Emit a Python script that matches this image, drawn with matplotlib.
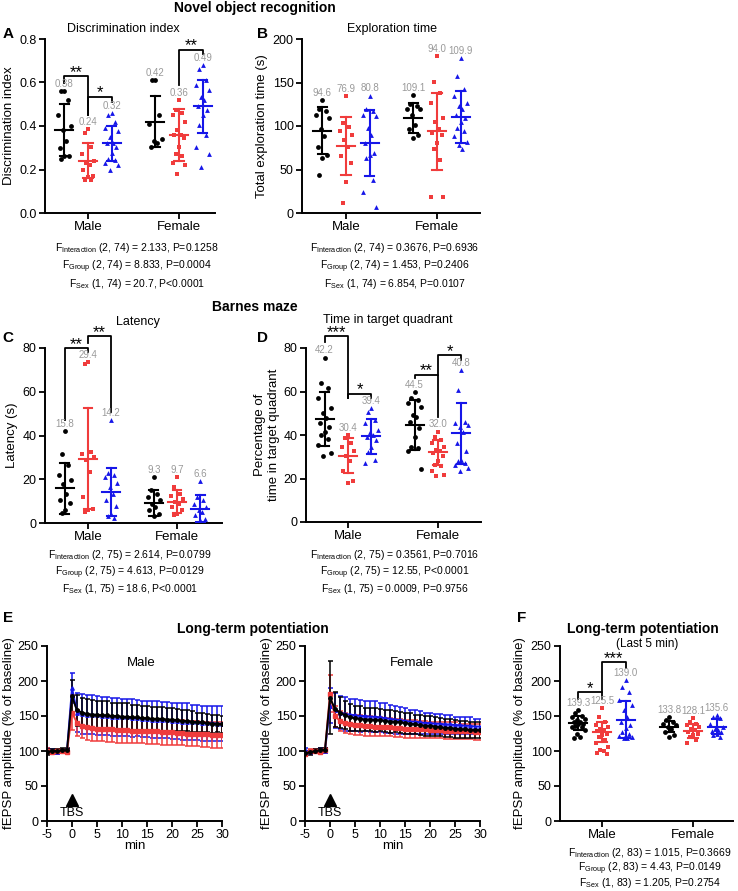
import numpy as np
import matplotlib
matplotlib.use("Agg")
import matplotlib.pyplot as plt

plt.rcParams['font.family'] = ['Liberation Sans', 'DejaVu Sans']
plt.rcParams['mathtext.fontset'] = 'custom'
plt.rcParams['mathtext.rm'] = 'Liberation Sans'
plt.rcParams['mathtext.it'] = 'Liberation Sans:italic'
plt.rcParams['mathtext.bf'] = 'Liberation Sans:bold'
plt.rcParams['axes.unicode_minus'] = False

W, H = 738, 891
BLACK, RED, BLUE = '#000000', '#f03c3c', '#1616e8'
GRAY = '#9a9a9a'
colors = [BLACK, RED, BLUE]
markers = ['o', 's', '^']
sexes = ['Male', 'Female']

# order in every group list: male ctrl, male red, male blue, female ctrl, female red, female blue
# A - discrimination index
di_pts = [[0.56, 0.56, 0.52, 0.45, 0.40, 0.38, 0.33, 0.30, 0.26, 0.26, 0.25],
          [0.385, 0.37, 0.305, 0.27, 0.24, 0.23, 0.22, 0.20, 0.17, 0.165, 0.15, 0.15],
          [0.46, 0.45, 0.42, 0.39, 0.375, 0.35, 0.32, 0.32, 0.305, 0.275, 0.25, 0.245, 0.23, 0.22, 0.20],
          [0.61, 0.61, 0.45, 0.41, 0.34, 0.33, 0.32, 0.305],
          [0.52, 0.475, 0.46, 0.45, 0.42, 0.38, 0.36, 0.36, 0.345, 0.305, 0.27, 0.26, 0.23, 0.22, 0.18],
          [0.68, 0.66, 0.61, 0.59, 0.565, 0.535, 0.52, 0.49, 0.475, 0.45, 0.405, 0.36, 0.305, 0.27, 0.21]]
di_mean = [0.38, 0.24, 0.32, 0.42, 0.36, 0.49]
di_sd = [0.12, 0.08, 0.08, 0.117, 0.12, 0.12]
di_lab = ['0.38', '0.24', '0.32', '0.42', '0.36', '0.49']

# B - exploration time
ex_pts = [[130, 120, 117, 113, 109, 96, 88, 76, 67, 63, 44],
          [134, 103, 99, 94, 90, 84, 76, 65, 57, 36, 12],
          [135, 119, 117, 113, 111, 98, 90, 80, 69, 67, 63, 38, 24, 7],
          [136, 125, 123, 120, 119, 113, 101, 97, 90, 86],
          [180, 151, 138, 127, 109, 105, 96, 92, 90, 80, 73, 61, 18, 18],
          [178, 157, 142, 134, 126, 123, 119, 113, 109, 105, 98, 94, 88, 82, 78, 73]]
ex_mean = [94.6, 76.9, 80.8, 109.1, 94.0, 109.9]
ex_sd = [27, 33, 38, 17, 44, 30]
ex_lab = ['94.6', '76.9', '80.8', '109.1', '94.0', '109.9']

# C - latency
lat_pts = [[42, 31.4, 26.4, 22, 19.5, 17.7, 13.4, 10.4, 9, 5.8, 4.7],
           [73.6, 72.5, 32.5, 31.7, 30.2, 28.6, 23.3, 11.9, 6.5, 5.8, 5],
           [47.2, 22.9, 21.8, 21, 18.3, 16.5, 13.4, 10.4, 7.6, 4.3, 3, 2.4],
           [21, 15, 13.4, 11.9, 10.4, 8.8, 7.3, 5.8, 4.3, 3],
           [21, 16.5, 13.4, 12.2, 11, 9.6, 8.8, 7.3, 5.8, 4.3, 3.5],
           [19, 11.9, 10.4, 8.8, 7.3, 6.1, 5, 3.5, 2, 1.2]]
lat_mean = [15.8, 29.4, 14.2, 9.3, 9.7, 6.6]
lat_sd = [11.6, 23.2, 11.1, 5.9, 5.3, 6.0]
lat_lab = ['15.8', '29.4', '14.2', '9.3', '9.7', '6.6']

# D - time in target quadrant
tq_pts = [[75.6, 63.7, 61.4, 56.8, 52.3, 50, 47.7, 45.4, 43.9, 41.6, 40, 38.1, 35.5, 31.7, 30.2],
          [40, 38.6, 36.3, 34.7, 32.5, 30.2, 27.9, 23.3, 18.7, 18],
          [52.3, 50.7, 47, 45.4, 42.4, 41.6, 40, 39.3, 37.8, 34.7, 32, 28.6, 27.1],
          [59.9, 56.8, 56, 54.5, 53, 49.2, 48.2, 46.2, 43.1, 39.3, 34.7, 34, 32.5, 24.4],
          [41.6, 39.3, 37.8, 36.3, 34.7, 33.2, 32.5, 31.7, 30.2, 27.9, 26.4, 25.6, 23.3, 21.8, 21],
          [69.8, 60.6, 46.2, 45.4, 44.6, 43.9, 41.6, 36.3, 32.5, 28.6, 27.9, 27.1, 26.4, 24.8, 23.6]]
tq_mean = [47.4, 30.4, 39.4, 44.5, 32.0, 40.8]
tq_sd = [12.5, 8.1, 8.0, 11.5, 5.8, 14.0]
tq_lab = ['42.2', '30.4', '39.4', '44.5', '32.0', '40.8']

# E - LTP time course
t_min = list(range(-5, 31))
ltp_m_black = [99, 100, 100, 101, 101, 178,
               158, 155, 153, 152, 152, 151, 151, 150, 150, 149, 149, 148, 148, 147, 147,
               146, 146, 146, 145, 145, 144, 143, 143, 142, 141, 141, 140, 139, 139, 138]
ltp_m_black_sd = [4, 3, 3, 3, 3, 24,
                  22, 21, 21, 21, 20, 20, 20, 19, 19, 19, 19, 18, 18, 18, 18,
                  17, 17, 17, 16, 16, 16, 15, 15, 15, 14, 14, 13, 13, 12, 12]
ltp_m_blue = [101, 100, 99, 100, 100, 190,
              155, 153, 152, 152, 151, 150, 150, 149, 149, 148, 148, 147, 147, 146, 146,
              145, 145, 144, 144, 143, 143, 142, 142, 141, 141, 140, 140, 140, 139, 139]
ltp_m_blue_sd = [4, 3, 3, 3, 3, 22,
                 28, 28, 28, 28, 28, 27, 27, 27, 27, 27, 27, 27, 26, 26, 26,
                 26, 26, 26, 26, 26, 26, 26, 26, 25, 25, 25, 25, 25, 25, 25]
ltp_m_red = [100, 99, 100, 100, 99, 155,
             140, 136, 134, 133, 132, 132, 131, 131, 130, 130, 130, 129, 129, 129, 128,
             128, 128, 127, 127, 127, 126, 126, 125, 125, 125, 124, 124, 123, 123, 123]
ltp_m_red_sd = [4, 3, 3, 3, 3, 25,
                18, 18, 18, 18, 18, 18, 18, 18, 18, 18, 18, 18, 18, 18, 18,
                18, 18, 18, 18, 18, 18, 18, 18, 18, 18, 18, 18, 18, 18, 18]
ltp_f_black = [97, 98, 100, 101, 102, 176,
               160, 155, 151, 148, 147, 146, 145, 145, 144, 144, 143, 142, 142, 141, 140,
               139, 138, 137, 136, 136, 135, 134, 133, 133, 132, 131, 131, 130, 130, 130]
ltp_f_black_sd = [3, 3, 3, 3, 3, 52,
                  25, 22, 20, 19, 18, 18, 17, 17, 17, 16, 16, 16, 15, 15, 15,
                  15, 14, 14, 14, 14, 13, 13, 13, 13, 13, 12, 12, 12, 12, 12]
ltp_f_blue = [101, 99, 100, 101, 100, 165,
              158, 155, 153, 152, 151, 150, 150, 149, 149, 148, 147, 146, 145, 144, 143,
              142, 142, 141, 140, 140, 139, 139, 138, 138, 137, 137, 136, 136, 135, 135]
ltp_f_blue_sd = [3, 3, 3, 3, 3, 25,
                 25, 24, 24, 23, 23, 23, 22, 22, 22, 21, 21, 20, 20, 19, 18,
                 17, 17, 16, 15, 15, 14, 14, 13, 13, 12, 12, 12, 12, 11, 11]
ltp_f_red = [96, 100, 100, 99, 101, 182,
             150, 143, 140, 138, 137, 137, 136, 136, 135, 135, 134, 134, 133, 133, 132,
             132, 131, 131, 131, 130, 130, 130, 129, 129, 129, 128, 128, 128, 127, 127]
ltp_f_red_sd = [3, 3, 3, 3, 3, 26,
                15, 14, 14, 14, 14, 14, 14, 14, 14, 13, 13, 13, 13, 13, 13,
                13, 13, 12, 12, 12, 12, 12, 12, 12, 12, 11, 11, 11, 11, 11]

# F - last 5 min
l5_pts = [[158, 153.6, 150, 148.8, 146, 144, 141.7, 141, 139, 138, 136, 134.4, 134, 129.6, 125, 120, 118],
          [161, 148.8, 141.7, 137, 134.5, 132, 130, 128, 125, 122.7, 120, 115.6, 111, 106, 102, 100, 97.4, 95.6],
          [201, 191.6, 184.4, 172.6, 165.5, 158.3, 148.8, 141.6, 137, 132.2, 127.4, 125, 122, 120.2, 119, 118],
          [148.8, 144, 141.7, 139, 137, 134.4, 131, 127.5, 122.7, 120],
          [146.5, 142, 139, 137, 134.5, 132, 130, 127.5, 125, 122.7, 120, 115.6, 111],
          [151, 148.8, 146.5, 139, 134.4, 131, 130, 128, 127.4, 125, 122.7, 120]]
l5_mean = [140, 127, 145, 134.5, 128.1, 135]
l5_sd = [10, 14, 27, 8, 10, 11]
l5_lab = ['139.3', '125.5', '139.0', '133.8', '128.1', '135.6']

stats_A = [('Interaction', '(2, 74) = 2.133, P=0.1258'), ('Group', '(2, 74) = 8.833, P=0.0004'), ('Sex', '(1, 74) = 20.7, P<0.0001')]
stats_B = [('Interaction', '(2, 74) = 0.3676, P=0.6936'), ('Group', '(2, 74) = 1.453, P=0.2406'), ('Sex', '(1, 74) = 6.854, P=0.0107')]
stats_C = [('Interaction', '(2, 75) = 2.614, P=0.0799'), ('Group', '(2, 75) = 4.613, P=0.0129'), ('Sex', '(1, 75) = 18.6, P<0.0001')]
stats_D = [('Interaction', '(2, 75) = 0.3561, P=0.7016'), ('Group', '(2, 75) = 12.55, P<0.0001'), ('Sex', '(1, 75) = 0.0009, P=0.9756')]
stats_F = [('Interaction', '(2, 83) = 1.015, P=0.3669'), ('Group', '(2, 83) = 4.43, P=0.0149'), ('Sex', '(1, 83) = 1.205, P=0.2754')]

fig = plt.figure(figsize=(W / 100, H / 100), dpi=100)


def px_ax(x0, x1, ytop, ybot):
    return fig.add_axes([x0 / W, 1 - ybot / H, (x1 - x0) / W, (ybot - ytop) / H])


def ftext(x, y, s, **kw):
    fig.text(x / W, 1 - y / H, s, **kw)


def style(ax, fs=9):
    for s in ['top', 'right']:
        ax.spines[s].set_visible(False)
    for s in ['left', 'bottom']:
        ax.spines[s].set_linewidth(1.4)
    ax.tick_params(width=1.3, length=4, labelsize=fs, pad=2)


OFFS = 0.26
jit = [0, -1, 1, -2, 2, -0.5, 0.5, -1.5, 1.5]


def dot_panel(x0, x1, ytop, ybot, mpx, fpx, pts, means, sds, labs, ymax, ystep, ylabel, fmt):
    ax = px_ax(x0, x1, ytop, ybot)
    style(ax)
    u = fpx - mpx
    ax.set_xlim((x0 - mpx) / u, (x1 - mpx) / u)
    ax.set_ylim(0, ymax)
    ax.set_yticks(np.arange(0, ymax + ystep / 2, ystep))
    ax.yaxis.set_major_formatter(plt.FormatStrFormatter(fmt))
    ax.set_xticks([0, 1])
    ax.set_xticklabels(sexes, fontsize=9.5)
    ax.set_ylabel(ylabel, fontsize=9.5, labelpad=3)
    for i in range(6):
        xc = i // 3 + (i % 3 - 1) * OFFS
        c = colors[i % 3]
        vals = sorted(pts[i], reverse=True)
        xs = [xc + jit[k % len(jit)] * 0.035 for k in range(len(vals))]
        ax.scatter(xs, vals, s=12, marker=markers[i % 3], color=c, lw=0, zorder=3, clip_on=False)
        m, sd = means[i], sds[i]
        ax.plot([xc - 0.1, xc + 0.1], [m, m], color=c, lw=1.5, zorder=4)
        ax.plot([xc, xc], [m - sd, m + sd], color=c, lw=1.5, zorder=4)
        for yy in (m - sd, m + sd):
            ax.plot([xc - 0.05, xc + 0.05], [yy, yy], color=c, lw=1.5, zorder=4)
        ytxt = max(max(vals), m + sd) + 0.012 * ymax
        ax.text(xc, ytxt, labs[i], ha='center', va='bottom', fontsize=7, color=GRAY)
    return ax


def bracket(ax, x1, x2, y, y1, y2, s):
    ax.plot([x1, x1, x2, x2], [y1, y, y, y2], color='k', lw=1.3, clip_on=False)
    ax.annotate(s, ((x1 + x2) / 2, y), xytext=(0, -0.5), textcoords='offset points',
                ha='center', va='baseline', fontsize=12, annotation_clip=False)


def stats_text(xc, ys, rows):
    for (sub, rest), y in zip(rows, ys):
        ftext(xc, y + 3, r'F$_{\mathrm{' + sub + '}}$ ' + rest, ha='center', va='baseline', fontsize=7.5)


# headings
ftext(255, 8, 'Novel object recognition', ha='center', va='center', fontsize=10, fontweight='bold')
ftext(255, 307, 'Barnes maze', ha='center', va='center', fontsize=10, fontweight='bold')
ftext(253, 629, 'Long-term potentiation', ha='center', va='center', fontsize=10, fontweight='bold')
ftext(643, 629, 'Long-term potentiation', ha='center', va='center', fontsize=10, fontweight='bold')
ftext(647, 644, '(Last 5 min)', ha='center', va='center', fontsize=8.5)
for lt, (x, y) in zip('ABCDEF', [(8, 34), (262, 34), (8, 338), (263, 338), (8, 618), (522, 618)]):
    ftext(x, y, lt, ha='center', va='center', fontsize=11, fontweight='bold')
ftext(123, 29, 'Discrimination index', ha='center', va='center', fontsize=9)
ftext(392, 29, 'Exploration time', ha='center', va='center', fontsize=9)
ftext(138, 322, 'Latency', ha='center', va='center', fontsize=9)
ftext(388, 320, 'Time in target quadrant', ha='center', va='center', fontsize=9)

# A
axA = dot_panel(45, 215, 39, 213, 88, 179, di_pts, di_mean, di_sd, di_lab, 0.8, 0.2, 'Discrimination index', '%.1f')
bracket(axA, -OFFS, 0, 0.63, 0.60, 0.45, '**')
bracket(axA, 0, OFFS, 0.535, 0.45, 0.51, '*')
bracket(axA, 1, 1 + OFFS, 0.75, 0.59, 0.73, '**')
stats_text(137, [248, 266, 284], stats_A)

# B
axB = dot_panel(302, 480, 39, 213, 346, 437, ex_pts, ex_mean, ex_sd, ex_lab, 200, 50, 'Total exploration time (s)', '%d')
stats_text(395, [248, 266, 284], stats_B)

# C
axC = dot_panel(45, 222, 348, 523, 88, 177, lat_pts, lat_mean, lat_sd, lat_lab, 80, 20, 'Latency (s)', '%d')
bracket(axC, -OFFS, 0, 80, 47, 78, '**')
bracket(axC, 0, OFFS, 85.3, 82.5, 50.7, '**')
stats_text(130, [555, 572, 589], stats_C)

# D
axD = dot_panel(306, 481, 348, 522, 348, 438, tq_pts, tq_mean, tq_sd, tq_lab, 80, 20,
                'Percentage of\ntime in target quadrant', '%d')
bracket(axD, -OFFS, 0, 85.3, 82.7, 56.8, '***')
bracket(axD, 0, OFFS, 59, 56.8, 57, '*')
bracket(axD, 1 - OFFS, 1, 67.8, 66, 48.5, '**')
bracket(axD, 1, 1 + OFFS, 76.6, 67.8, 74.4, '*')
stats_text(395, [555, 572, 589], stats_D)

# E
series_E = [
    ('Male', [(ltp_m_blue, ltp_m_blue_sd), (ltp_m_red, ltp_m_red_sd), (ltp_m_black, ltp_m_black_sd)], 47, 0.537),
    ('Female', [(ltp_f_blue, ltp_f_blue_sd), (ltp_f_red, ltp_f_red_sd), (ltp_f_black, ltp_f_black_sd)], 305, 0.61),
]
for name, sers, x0, tx in series_E:
    ax = px_ax(x0, x0 + 175, 646, 821)
    style(ax, fs=9)
    for (m, sd), c, mk in zip(sers, [BLUE, RED, BLACK], ['^', 's', 'o']):
        ax.errorbar(t_min, m, yerr=sd, color=c, marker=mk, ms=2.5, lw=1.4,
                    elinewidth=1.1, capsize=1.8, capthick=1.1)
    ax.set_xlim(-5, 30)
    ax.set_ylim(0, 250)
    ax.set_xticks(range(-5, 31, 5))
    ax.set_yticks(range(0, 251, 50))
    ax.set_xlabel('min', fontsize=9.5, labelpad=-1)
    ax.set_ylabel('fEPSP amplitude (% of baseline)', fontsize=9.5, labelpad=2)
    ax.plot([0], [30], marker='^', ms=8, color='k', clip_on=False)
    ax.text(0, 12, 'TBS', ha='center', va='center', fontsize=9)
    ax.text(tx, 0.9, name, transform=ax.transAxes, ha='center', va='center', fontsize=9.5)

# F
axF = dot_panel(560, 733, 646, 821, 602, 693, l5_pts, l5_mean, l5_sd, l5_lab, 250, 50,
                'fEPSP amplitude (% of baseline)', '%d')
bracket(axF, -OFFS, 0, 184, 175, 175, '*')
bracket(axF, 0, OFFS, 227, 184, 218, '***')
stats_text(650, [853, 868, 883], stats_F)

fig.savefig('out.png', dpi=100)
